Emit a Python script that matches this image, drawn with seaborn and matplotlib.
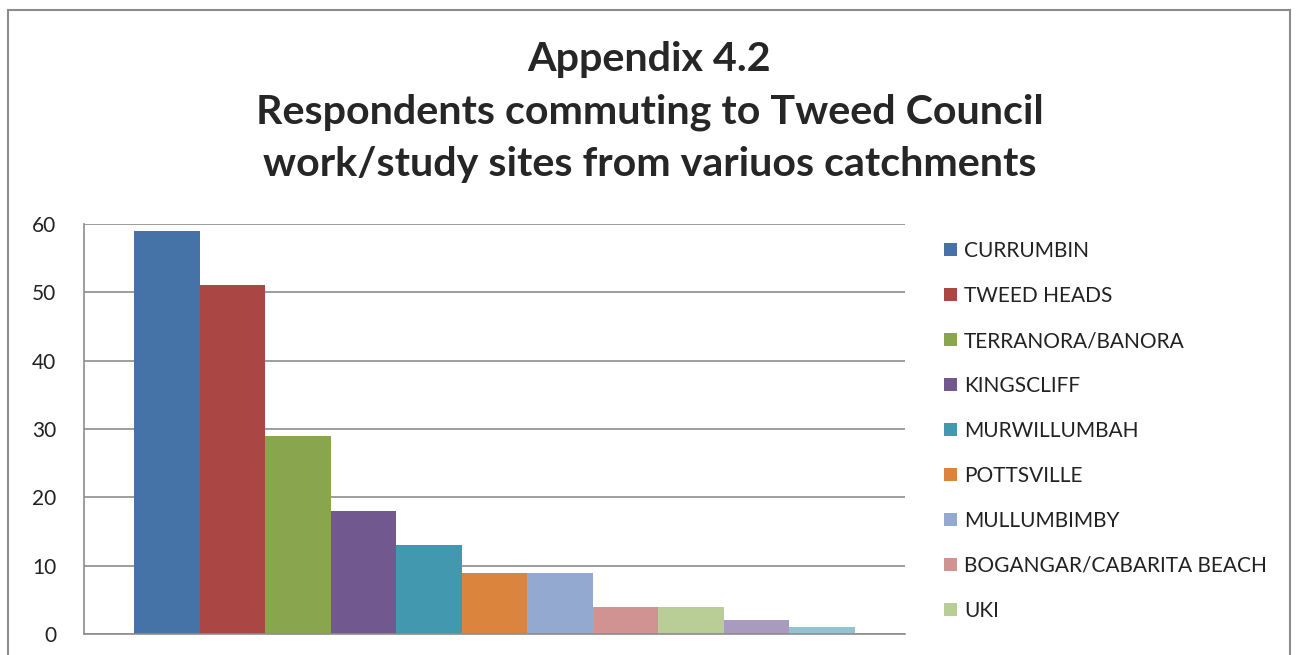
import matplotlib
matplotlib.use('Agg')
import matplotlib.pyplot as plt
import matplotlib.patches as mpatches
import seaborn as sns
import pandas as pd

# datos (las dos ultimas categorias quedan cortadas en la leyenda)
catchments = ['CURRUMBIN', 'TWEED HEADS', 'TERRANORA/BANORA', 'KINGSCLIFF',
              'MURWILLUMBAH', 'POTTSVILLE', 'MULLUMBIMBY',
              'BOGANGAR/CABARITA BEACH', 'UKI', 'OTHER 1', 'OTHER 2']
respondents = [59, 51, 29, 18, 13, 9, 9, 4, 4, 2, 1]
colors = ['#4572A7', '#AA4643', '#89A54E', '#71588F', '#4198AF', '#DB843D',
          '#93A9CF', '#D19392', '#B9CD96', '#A99BBD', '#92C3D5']
n_visible_legend = 9

df = pd.DataFrame({'grupo': [''] * len(catchments),
                   'catchment': catchments,
                   'valor': respondents})

sns.set_style('white')
plt.rcParams['font.family'] = ['Lato', 'DejaVu Sans']

fig = plt.figure(figsize=(12.99, 6.55), dpi=100)
ax = fig.add_axes([84/1299, 21/655, (905-84)/1299, (634-224)/655])

sns.barplot(data=df, x='grupo', y='valor', hue='catchment', palette=colors,
            width=0.878, gap=0, saturation=1, linewidth=0, ax=ax, legend=True)

ax.set_ylim(0, 60)
ax.set_xlim(-0.5, 0.5)
ax.set_yticks(range(0, 61, 10))
ax.set_xticks([])
ax.set_xlabel('')
ax.set_ylabel('')
ax.tick_params(axis='y', labelsize=15, length=0, pad=20, colors='#222222')
ax.yaxis.grid(True, color='#8c8c8c', linewidth=1.2)
ax.set_axisbelow(True)
for s in ['top', 'right']:
    ax.spines[s].set_visible(False)
for s in ['left', 'bottom']:
    ax.spines[s].set_color('#8c8c8c')
    ax.spines[s].set_linewidth(1.2)

handles, labels = ax.get_legend_handles_labels()
ax.get_legend().remove()
fig.legend(handles[:n_visible_legend], labels[:n_visible_legend],
           loc='upper left', bbox_to_anchor=(944/1299, (655-241)/655),
           frameon=False, fontsize=15, handlelength=0.62, handleheight=0.62,
           handletextpad=0.34, labelspacing=1.2, borderpad=0, borderaxespad=0,
           labelcolor='#222222')

fig.text(0.5, (655-112)/655,
         'Appendix 4.2\nRespondents commuting to Tweed Council\nwork/study sites from variuos catchments',
         ha='center', va='center', fontsize=29.7, fontweight='bold', linespacing=1.52,
         transform=fig.transFigure)

# borde exterior del grafico
fig.patches.append(mpatches.Rectangle((8/1299, -0.1), (1290-8)/1299, (655-10)/655 + 0.1,
                                      transform=fig.transFigure, fill=False,
                                      edgecolor='#8c8c8c', linewidth=1.5))

fig.savefig('out.png', dpi=100)
